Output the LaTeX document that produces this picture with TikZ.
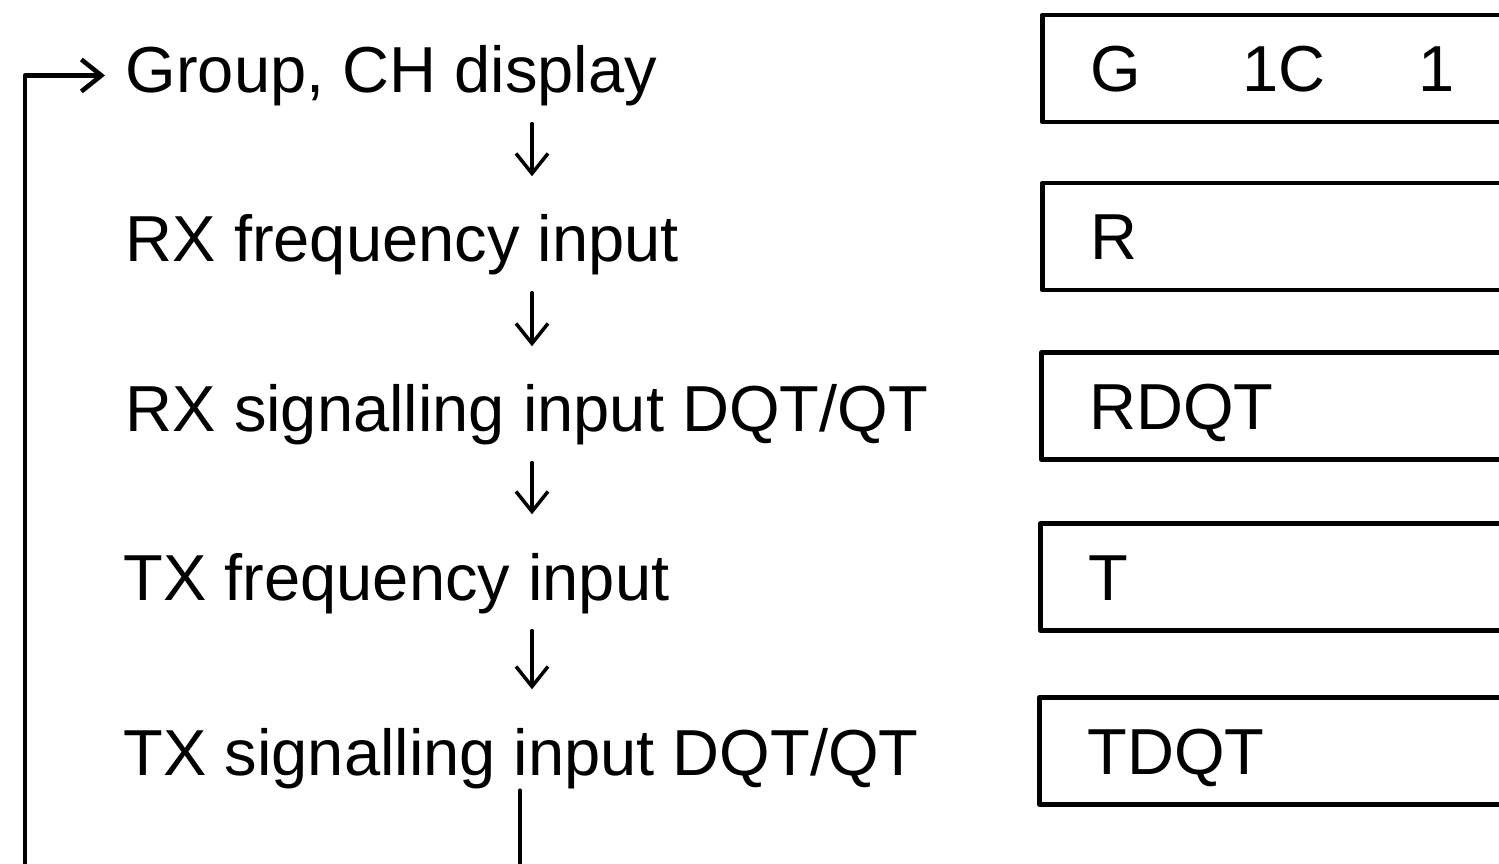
\documentclass[tikz,border=0pt]{standalone}
\usepackage{fontspec}
\setmainfont{Liberation Sans}
\usetikzlibrary{arrows.meta}

\begin{document}
\begin{tikzpicture}[line cap=round,line join=round,>={Straight Barb[length=2mm,width=3.2mm]},
    lbl/.style={anchor=base west,inner sep=0pt,text height=0.5cm,text depth=0.15cm,font=\fontsize{18.5}{22}\selectfont},
    disp/.style={draw,line width=1.4pt,anchor=west,text width=5.2cm,align=left,inner xsep=0.48cm,inner ysep=0pt,minimum height=1.07cm,text height=0.47cm,text depth=0pt,font=\fontsize{18.5}{22}\selectfont},
    flow/.style={->,line width=1pt,shorten <=0.15cm,shorten >=0.35cm},
    back/.style={->,line width=1.3pt,shorten >=0.2cm}]
		\useasboundingbox (0,0) rectangle (14.99,-8.64);
		\clip (0,0) rectangle (14.99,-8.64);
		% steps
		\node[lbl] (grp) at (1.25,-0.93) {Group, CH display};
		\node[lbl] (rxf) at (1.25,-2.62) {RX frequency input};
		\node[lbl] (rxs) at (1.25,-4.32) {RX signalling input DQT/QT};
		\node[lbl] (txf) at (1.23,-6.00) {TX frequency input};
		\node[lbl] (txs) at (1.23,-7.75) {TX signalling input DQT/QT};
		\coordinate (ax) at (5.32,0);
		\coordinate (lx) at (5.20,0);
		\coordinate (lb) at (0.25,-8.68);
		\draw[flow] (grp.south -| ax) -- (rxf.north -| ax);
		\draw[flow] (rxf.south -| ax) -- (rxs.north -| ax);
		\draw[flow] (rxs.south -| ax) -- (txf.north -| ax);
		\draw[flow] (txf.south -| ax) -- (txs.north -| ax);
		\draw[back] (txs.south -| lx) |- (lb) |- (grp.west);
		% displays
		\node[disp] (dg) at (10.40,-0.685) {\makebox[1.52cm][l]{G}\makebox[1.76cm][l]{1C}1};
		\node[disp] (dr) at (10.40,-2.365) {R};
		\node[disp] (drdqt) at (10.39,-4.06) {RDQT};
		\node[disp] (dt) at (10.38,-5.77) {T};
		\node[disp] (dtdqt) at (10.37,-7.51) {TDQT};
	\end{tikzpicture}
\end{document}
